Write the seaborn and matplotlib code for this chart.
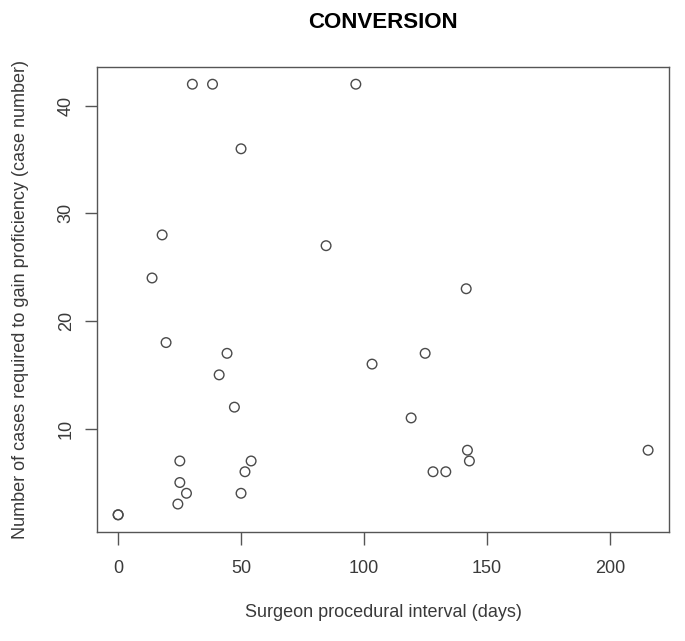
import matplotlib
matplotlib.use("Agg")
import matplotlib.pyplot as plt
import seaborn as sns
import pandas as pd

# surgeon procedural interval (days) vs cases needed to gain proficiency
interval_days = [0, 0, 30.2, 38.4, 96.7, 50.0, 17.9, 84.6, 13.8, 141.6,
                 19.5, 44.3, 124.9, 103.3, 41.1, 47.3, 119.2, 142.1, 215.6,
                 25.1, 54.1, 142.9, 51.6, 128.1, 133.3, 25.1, 27.8, 50.0, 24.3]
cases_needed = [2, 2, 42, 42, 42, 36, 28, 27, 24, 23,
                18, 17, 17, 16, 15, 12, 11, 8, 8,
                7, 7, 7, 6, 6, 6, 5, 4, 4, 3]

df = pd.DataFrame({"interval": interval_days, "cases": cases_needed})

sns.set_style("ticks")
plt.rcParams["font.family"] = ["Liberation Sans", "DejaVu Sans"]

gray = "#555555"
txt = "#3a3a3a"
fig = plt.figure(figsize=(6.85, 6.41), dpi=100)
ax = fig.add_axes([0.1416, 0.170, 0.8354, 0.7255])

sns.scatterplot(data=df, x="interval", y="cases", ax=ax, marker="o",
                facecolors="none", edgecolor="#4a4a4a", s=48, linewidth=1.0)

ax.set_xlim(-8.6, 224.2)
ax.set_ylim(0.4, 43.6)
ax.set_xticks([0, 50, 100, 150, 200])
ax.set_yticks([10, 20, 30, 40])
ax.tick_params(direction="out", length=9, width=1, colors=gray,
               labelsize=13, labelcolor=txt)
ax.tick_params(axis="x", pad=11)
ax.tick_params(axis="y", pad=7)
for lab in ax.get_yticklabels():
    lab.set_rotation(90)
    lab.set_va("center")
for sp in ax.spines.values():
    sp.set_visible(True)
    sp.set_color(gray)
    sp.set_linewidth(1)

ax.set_xlabel("Surgeon procedural interval (days)", fontsize=13, color=txt)
ax.set_ylabel("Number of cases required to gain proficiency (case number)",
              fontsize=13, color=txt)
ax.xaxis.label.set_va("center")
ax.yaxis.label.set_va("center")
ax.xaxis.set_label_coords(0.5, -0.174)
ax.yaxis.set_label_coords(-0.1345, 0.5)

fig.text(0.5 + (383 - 342.5) / 685, 1 - 22 / 641, "CONVERSION",
         fontsize=16, fontweight="bold", ha="center", va="center",
         color="black")

fig.savefig("out.png", dpi=100)
